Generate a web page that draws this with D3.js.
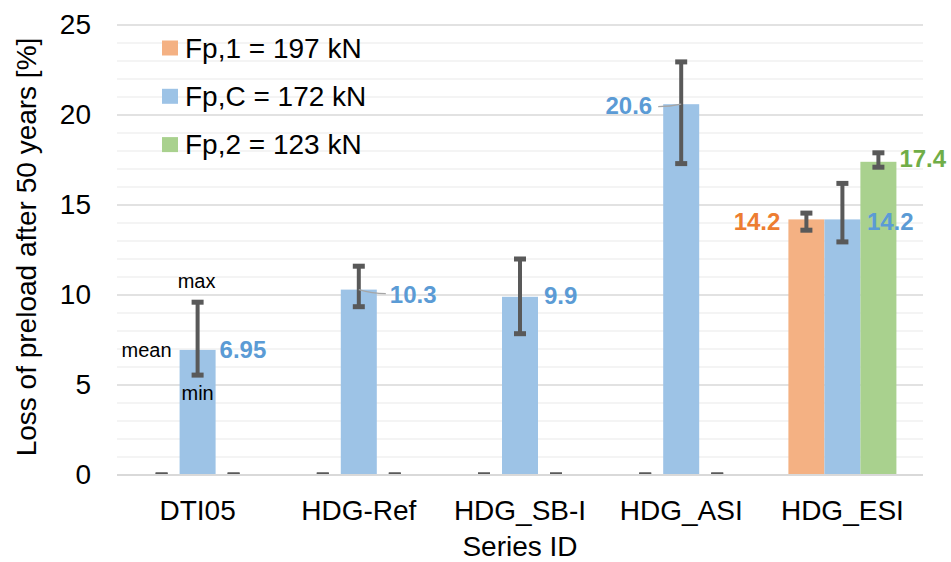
<!DOCTYPE html>
<html>
<head>
<meta charset="utf-8">
<script src="https://cdn.jsdelivr.net/npm/d3@7/dist/d3.min.js"></script>
<style>
  html, body { margin: 0; padding: 0; background: #fff; }
  svg { display: block; font-family: Arial, "Liberation Sans", sans-serif; }
</style>
</head>
<body>
<svg id="chart" width="951" height="562"></svg>
<script>
// Test series and preload levels
const categories = ["DTI05", "HDG-Ref", "HDG_SB-I", "HDG_ASI", "HDG_ESI"];
const seriesNames = ["Fp,1 = 197 kN", "Fp,C = 172 kN", "Fp,2 = 123 kN"];

// Mean loss of preload after 50 years [%]
const meanFp1 = [0, 0, 0, 0, 14.2];
const meanFpC = [6.95, 10.3, 9.9, 20.6, 14.2];
const meanFp2 = [0, 0, 0, 0, 17.4];

// Scatter range (min / max) per series
const minFp1 = [0, 0, 0, 0, 13.6];
const maxFp1 = [0, 0, 0, 0, 14.55];
const minFpC = [5.55, 9.35, 7.85, 17.3, 12.95];
const maxFpC = [9.6, 11.6, 12.0, 22.95, 16.2];
const minFp2 = [0, 0, 0, 0, 17.1];
const maxFp2 = [0, 0, 0, 0, 17.9];

const yTicks = [0, 5, 10, 15, 20, 25];
const yMinorTicks = d3.range(0, 26, 1);

const xTitle = "Series ID";
const yTitle = "Loss of preload after 50 years [%]";

const colors = ["#f4b183", "#9dc3e6", "#a9d18e"];
const labelColors = ["#ed7d31", "#5b9bd5", "#70ad47"];

const means = [meanFp1, meanFpC, meanFp2];
const mins = [minFp1, minFpC, minFp2];
const maxs = [maxFp1, maxFpC, maxFp2];

const svg = d3.select("#chart");
const plot = { left: 117, right: 923, top: 25, bottom: 475 };

const x0 = d3.scaleBand().domain(categories).range([plot.left, plot.right])
  .paddingInner(0.33).paddingOuter(0.165);
const x1 = d3.scaleBand().domain(d3.range(seriesNames.length)).range([0, x0.bandwidth()]);
const y = d3.scaleLinear().domain([0, 25]).range([plot.bottom, plot.top]);

svg.append("defs").append("clipPath").attr("id", "plotClip")
  .append("rect").attr("x", plot.left).attr("y", plot.top - 10)
  .attr("width", plot.right - plot.left).attr("height", plot.bottom - plot.top + 10);

// Minor and major gridlines
svg.append("g").selectAll("line").data(yMinorTicks.filter(v => v % 5 !== 0)).join("line")
  .attr("x1", plot.left).attr("x2", plot.right)
  .attr("y1", d => y(d)).attr("y2", d => y(d))
  .attr("stroke", "#f0f0f0").attr("stroke-width", 1.5);
svg.append("g").selectAll("line").data(yTicks.filter(v => v > 0)).join("line")
  .attr("x1", plot.left).attr("x2", plot.right)
  .attr("y1", d => y(d)).attr("y2", d => y(d))
  .attr("stroke", "#d9d9d9").attr("stroke-width", 1.5);

// Y axis tick labels
const yAxis = d3.axisLeft(y).tickValues(yTicks).tickSize(0).tickPadding(26);
const yg = svg.append("g").attr("transform", `translate(${plot.left},0)`).call(yAxis);
yg.select(".domain").remove();
yg.selectAll("text").attr("font-size", 28).attr("fill", "#000")
  .attr("font-family", "Arial, 'Liberation Sans', sans-serif");

// Bars
const bars = svg.append("g");
categories.forEach((c, i) => {
  means.forEach((arr, s) => {
    if (arr[i] > 0) {
      bars.append("rect")
        .attr("x", x0(c) + x1(s)).attr("width", x1.bandwidth())
        .attr("y", y(arr[i])).attr("height", y(0) - y(arr[i]))
        .attr("fill", colors[s]);
    }
  });
});

// Error bars (min to max)
const errs = svg.append("g").attr("clip-path", "url(#plotClip)");
const capW = 12, capH = 5;
categories.forEach((c, i) => {
  means.forEach((arr, s) => {
    const cx = x0(c) + x1(s) + x1.bandwidth() / 2;
    const lo = mins[s][i], hi = maxs[s][i];
    if (hi > lo) {
      errs.append("line").attr("x1", cx).attr("x2", cx)
        .attr("y1", y(hi)).attr("y2", y(lo))
        .attr("stroke", "#595959").attr("stroke-width", 4);
    }
    [lo, hi].forEach(v => {
      errs.append("rect").attr("x", cx - capW / 2).attr("y", y(v) - capH / 2)
        .attr("width", capW).attr("height", capH).attr("fill", "#595959");
    });
  });
});

// Category axis line
svg.append("line").attr("x1", plot.left).attr("x2", plot.right)
  .attr("y1", y(0)).attr("y2", y(0))
  .attr("stroke", "#d9d9d9").attr("stroke-width", 2);

// Category labels
const xAxis = d3.axisBottom(x0).tickSize(0).tickPadding(25);
const xg = svg.append("g").attr("transform", `translate(0,${plot.bottom})`).call(xAxis);
xg.select(".domain").remove();
xg.selectAll("text").attr("font-size", 28).attr("fill", "#000")
  .attr("font-family", "Arial, 'Liberation Sans', sans-serif");

// Axis titles
svg.append("text").attr("x", (plot.left + plot.right) / 2).attr("y", 556)
  .attr("text-anchor", "middle").attr("font-size", 28).attr("fill", "#000").text(xTitle);
svg.append("text").attr("transform", `translate(36,${(plot.top + plot.bottom) / 2 - 3}) rotate(-90)`)
  .attr("text-anchor", "middle").attr("font-size", 28).attr("fill", "#000").text(yTitle);

// Value labels: placement per bar (side, dx from bar edge, dy from bar top, leader line)
const labelPlacement = {
  "1-0": { side: "right", dx: 4, dy: 0 },
  "1-1": { side: "right", dx: 13, dy: 5, leader: true },
  "1-2": { side: "right", dx: 6, dy: -1 },
  "1-3": { side: "left", dx: 11, dy: 1.5, leader: true },
  "0-4": { side: "left", dx: 8, dy: 2 },
  "1-4": { side: "right", dx: 6.5, dy: 2 },
  "2-4": { side: "right", dx: 3, dy: -3 }
};
const fmt = v => (v === 6.95 ? "6.95" : d3.format(".1f")(v));
const labels = svg.append("g");
categories.forEach((c, i) => {
  means.forEach((arr, s) => {
    const p = labelPlacement[`${s}-${i}`];
    if (!p || arr[i] <= 0) return;
    const bx = x0(c) + x1(s);
    const bw = x1.bandwidth();
    const ty = y(arr[i]) + p.dy;
    const tx = p.side === "right" ? bx + bw + p.dx : bx - p.dx;
    if (p.leader) {
      const cx = bx + bw / 2, cy = y(arr[i]);
      const ex = p.side === "right" ? tx - 4 : tx + 6;
      const ey = ty + (p.side === "right" ? -1 : 1);
      labels.append("path")
        .attr("d", `M${cx},${cy} Q${(cx + ex) / 2},${ey} ${ex},${ey}`)
        .attr("fill", "none").attr("stroke", "#a6a6a6").attr("stroke-width", 1.2);
    }
    labels.append("text").attr("x", tx).attr("y", ty).attr("dy", "0.35em")
      .attr("text-anchor", p.side === "right" ? "start" : "end")
      .attr("font-size", 24).attr("font-weight", "bold").attr("fill", labelColors[s])
      .text(fmt(arr[i]));
  });
});

// Annotation for the first series: mean / max / min
const c0 = categories[0];
const cxFirst = x0(c0) + x1(1) + x1.bandwidth() / 2;
const notes = svg.append("g").attr("font-size", 20).attr("fill", "#000");
notes.append("text").attr("x", cxFirst - 1).attr("y", y(maxFpC[0]) - 14)
  .attr("text-anchor", "middle").text("max");
notes.append("text").attr("x", cxFirst).attr("y", y(minFpC[0]) + 25)
  .attr("text-anchor", "middle").text("min");
notes.append("text").attr("x", x0(c0) + x1(1) - 8).attr("y", y(meanFpC[0]) + 7)
  .attr("text-anchor", "end").text("mean");

// Legend
const legend = svg.append("g");
seriesNames.forEach((name, s) => {
  const ly = 48 + s * 48.3;
  legend.append("rect").attr("x", 162).attr("y", ly - 7.5).attr("width", 16).attr("height", 15)
    .attr("fill", colors[s]);
  legend.append("text").attr("x", 185).attr("y", ly).attr("dy", "0.35em")
    .attr("font-size", 28).attr("fill", "#000").text(name);
});
</script>
</body>
</html>
